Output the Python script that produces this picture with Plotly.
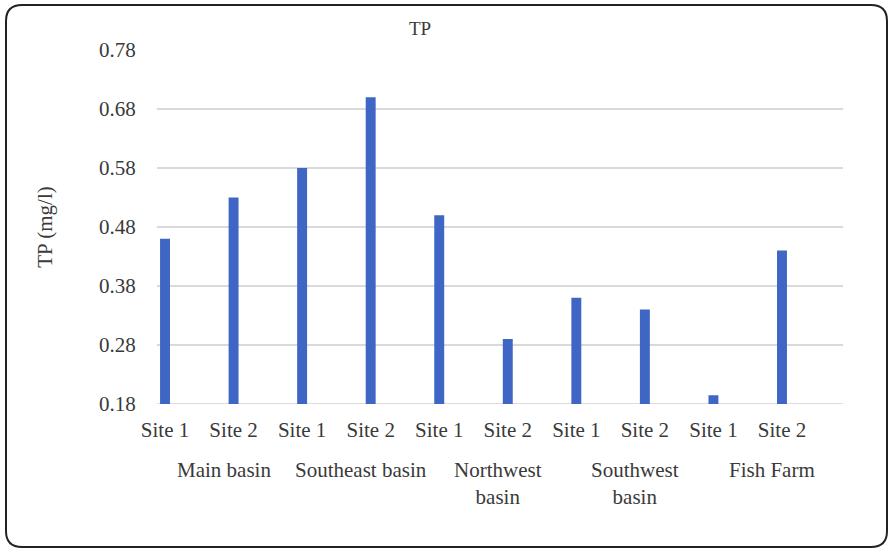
import plotly.graph_objects as go

sites = ["Site 1", "Site 2", "Site 1", "Site 2", "Site 1", "Site 2", "Site 1", "Site 2", "Site 1", "Site 2"]
groups = ["Main basin", "Southeast basin", "Northwest<br>basin", "Southwest<br>basin", "Fish Farm"]
tp_values = [0.46, 0.53, 0.58, 0.70, 0.50, 0.29, 0.36, 0.34, 0.195, 0.44]
y_ticks = [0.18, 0.28, 0.38, 0.48, 0.58, 0.68, 0.78]

W, H = 891, 551
ML, MR, MT, MB = 157, 48, 50, 147
PW, PH = W - ML - MR, H - MT - MB

font_family = "Liberation Serif"
text_color = "#3a3a3a"
x_idx = list(range(len(sites)))

fig = go.Figure()
fig.add_trace(go.Bar(
    x=x_idx, y=tp_values, width=0.145,
    marker=dict(color="#3F66C4", line=dict(width=0)),
    showlegend=False,
))

def px_to_paper_x(px):
    return (px - ML) / PW

def px_to_paper_y(py):
    return (H - MB - py) / PH

annotations = []
for i, g in enumerate(groups):
    annotations.append(dict(
        x=2 * i + 0.86, xref="x", y=px_to_paper_y(456), yref="paper",
        text=g, showarrow=False, xanchor="center", yanchor="top",
        font=dict(family=font_family, size=21, color=text_color),
    ))

# rounded frame
x0, x1 = px_to_paper_x(6), px_to_paper_x(887)
y0, y1 = px_to_paper_y(547), px_to_paper_y(5)
rx, ry = 16 / PW, 16 / PH
path = (f"M {x0+rx},{y1} L {x1-rx},{y1} Q {x1},{y1} {x1},{y1-ry} "
        f"L {x1},{y0+ry} Q {x1},{y0} {x1-rx},{y0} L {x0+rx},{y0} "
        f"Q {x0},{y0} {x0},{y0+ry} L {x0},{y1-ry} Q {x0},{y1} {x0+rx},{y1} Z")

fig.update_layout(
    width=W, height=H,
    margin=dict(l=ML, r=MR, t=MT, b=MB),
    paper_bgcolor="white", plot_bgcolor="white",
    font=dict(family=font_family, size=21, color=text_color),
    title=dict(text="TP", x=420 / W, xanchor="center",
               y=1 - 28 / H, yanchor="middle",
               font=dict(family=font_family, size=19, color=text_color)),
    xaxis=dict(
        tickmode="array", tickvals=x_idx, ticktext=sites,
        range=[-0.117, 9.89],
        showgrid=False, zeroline=False, showline=False,
        ticks="outside", ticklen=7, tickcolor="rgba(0,0,0,0)",
        tickfont=dict(family=font_family, size=21, color=text_color),
    ),
    yaxis=dict(
        range=[0.18, 0.78], tickmode="array", tickvals=y_ticks,
        ticktext=[f"{v:.2f}" for v in y_ticks],
        showgrid=True, gridcolor="#d9d9d9", gridwidth=1.5,
        zeroline=False, showline=False,
        ticks="outside", ticklen=16, tickcolor="rgba(0,0,0,0)",
        tickfont=dict(family=font_family, size=21, color=text_color),
        title=dict(text="TP (mg/l)", standoff=40,
                   font=dict(family=font_family, size=21, color=text_color)),
    ),
    annotations=annotations,
    shapes=[dict(type="path", path=path, xref="paper", yref="paper",
                 line=dict(color="#222222", width=2), layer="above"),
            dict(type="line", xref="paper", yref="y", x0=0, x1=1, y0=0.18, y1=0.18,
                 line=dict(color="#d0d0d0", width=1.5), layer="below")],
)

fig.write_html("out.html")
